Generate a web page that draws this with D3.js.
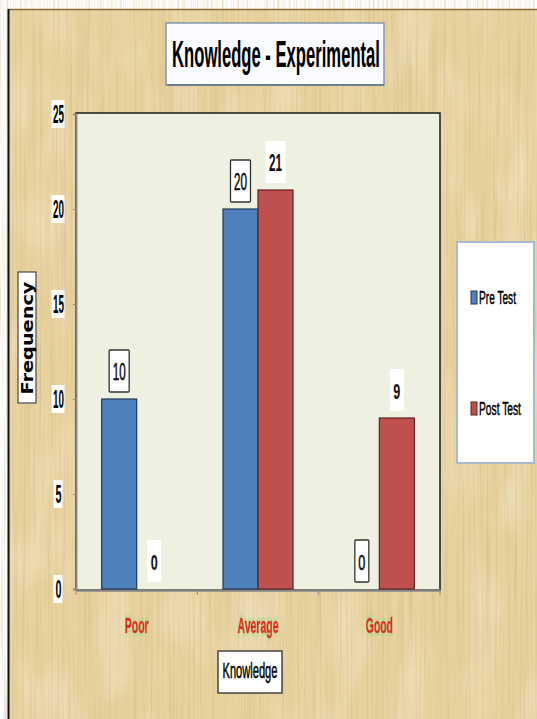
<!DOCTYPE html>
<html>
<head>
<meta charset="utf-8">
<script src="https://cdn.jsdelivr.net/npm/d3@7"></script>
<style>
  html, body { margin: 0; padding: 0; background: #ffffff; }
  svg { display: block; }
</style>
</head>
<body>
<div id="chart"></div>
<script>
// ---- data ----
const categories = ["Poor", "Average", "Good"];
const seriesNames = ["Pre Test", "Post Test"];
const preTest = [10, 20, 0];
const postTest = [0, 21, 9];
const yTicks = [0, 5, 10, 15, 20, 25];
const chartTitle = "Knowledge - Experimental";
const xTitle = "Knowledge";
const yTitle = "Frequency";

const W = 537, H = 719;
const colors = { "Pre Test": "#4f81bd", "Post Test": "#c0504d" };
const strokes = { "Pre Test": "#23395a", "Post Test": "#5c2221" };

const svg = d3.select("#chart").append("svg").attr("width", W).attr("height", H);
const defs = svg.append("defs");

// papyrus texture
const pap = defs.append("filter").attr("id", "pap").attr("filterUnits", "userSpaceOnUse")
  .attr("x", 0).attr("y", 0).attr("width", W).attr("height", H);
pap.append("feTurbulence").attr("type", "fractalNoise").attr("baseFrequency", "0.45 0.006")
  .attr("numOctaves", 3).attr("seed", 4).attr("result", "n1");
pap.append("feColorMatrix").attr("in", "n1").attr("type", "matrix")
  .attr("values", "0 0 0 0 0.62  0 0 0 0 0.48  0 0 0 0 0.22  1.2 0 0 0 -0.5").attr("result", "dark");
pap.append("feTurbulence").attr("type", "fractalNoise").attr("baseFrequency", "0.03 0.012")
  .attr("numOctaves", 2).attr("seed", 9).attr("result", "n2");
pap.append("feColorMatrix").attr("in", "n2").attr("type", "matrix")
  .attr("values", "0 0 0 0 0.97  0 0 0 0 0.91  0 0 0 0 0.75  0.9 0 0 0 -0.4").attr("result", "light");
pap.append("feMerge").call(m => { m.append("feMergeNode").attr("in", "light"); m.append("feMergeNode").attr("in", "dark"); });

// faint green glow for category labels
const glow = defs.append("filter").attr("id", "glow").attr("x", "-30%").attr("y", "-60%").attr("width", "160%").attr("height", "220%");
glow.append("feMorphology").attr("in", "SourceAlpha").attr("operator", "dilate").attr("radius", "0.5 3").attr("result", "d");
glow.append("feGaussianBlur").attr("in", "d").attr("stdDeviation", 1.2).attr("result", "b");
glow.append("feFlood").attr("flood-color", "#8fe08a").attr("flood-opacity", 0.5);
glow.append("feComposite").attr("in2", "b").attr("operator", "in").attr("result", "g");
glow.append("feMerge").call(m => { m.append("feMergeNode").attr("in", "g"); m.append("feMergeNode").attr("in", "SourceGraphic"); });

// background
svg.append("rect").attr("x", 8).attr("y", 9).attr("width", W - 8).attr("height", H - 9).attr("fill", "#e8d29f");
svg.append("rect").attr("x", 8).attr("y", 9).attr("width", W - 8).attr("height", H - 9).attr("fill", "#000").attr("filter", "url(#pap)");
svg.append("line").attr("x1", 8).attr("x2", W).attr("y1", 9.5).attr("y2", 9.5).attr("stroke", "#8a6b3a").attr("stroke-width", 1.5);
svg.append("line").attr("x1", 8.5).attr("x2", 8.5).attr("y1", 9).attr("y2", H).attr("stroke", "#111").attr("stroke-width", 2);

// text helper: natural text squeezed horizontally to the measured width
function txt(g, x, y, s, o) {
  const t = g.append("text").attr("x", 0).attr("y", 0).text(s)
    .attr("font-family", o.family || "'Liberation Sans', Arial, sans-serif")
    .attr("font-size", o.size).attr("font-weight", o.weight || "bold")
    .attr("fill", o.fill || "#000").attr("text-anchor", o.anchor || "middle");
  if (o.filter) t.attr("filter", o.filter);
  if (o.sw) t.attr("stroke", o.fill || "#000").attr("stroke-width", o.sw);
  const w = t.node().getComputedTextLength();
  const sx = o.len && w > 0 ? o.len / w : 1;
  t.attr("transform", `translate(${x},${y}) ${o.rot ? `rotate(${o.rot})` : ""} scale(${sx},1)`);
  return t;
}

// scales
const plot = { left: 76, right: 440, top: 113, bottom: 590 };
const x0 = d3.scaleBand().domain(categories).range([plot.left, plot.right]).paddingInner(0.423).paddingOuter(0.2115);
const x1 = d3.scaleBand().domain(seriesNames).range([0, x0.bandwidth()]);
const y = d3.scaleLinear().domain([0, 25]).range([589, 114]);

// plot area
svg.append("rect").attr("x", plot.left).attr("y", plot.top).attr("width", plot.right - plot.left)
  .attr("height", plot.bottom - plot.top).attr("fill", "#eef0e1").attr("stroke", "#1a1a1a").attr("stroke-width", 1.5);

// y axis
const yAxis = d3.axisLeft(y).tickValues(yTicks).tickSize(3).tickFormat("");
const yg = svg.append("g").attr("transform", `translate(${plot.left},0)`).call(yAxis);
yg.select(".domain").attr("stroke", "#8c8c8c").attr("stroke-width", 2);
yg.selectAll(".tick line").attr("stroke", "#8c8c8c");

// x axis
const xAxis = d3.axisBottom(x0).tickSize(0).tickFormat("");
const xg = svg.append("g").attr("transform", `translate(0,${plot.bottom})`).call(xAxis);
xg.select(".domain").attr("stroke", "#858585").attr("stroke-width", 2.5);
const bounds = [plot.left, ...categories.slice(1).map(c => x0(c) - x0.step() * x0.paddingInner() / 2), plot.right];
xg.selectAll(".bnd").data(bounds).join("line").attr("class", "bnd")
  .attr("x1", d => d).attr("x2", d => d).attr("y1", 0).attr("y2", 5).attr("stroke", "#8c8c8c");

// y tick labels with white boxes
yTicks.forEach(v => {
  const s = String(v);
  const bw = s.length > 1 ? 13 : 9;
  svg.append("rect").attr("x", 58 - bw / 2).attr("y", y(v) - 14).attr("width", bw).attr("height", 28).attr("fill", "#fff");
  txt(svg, 58.5, y(v) + 9, s, { size: 25, len: s.length > 1 ? 11 : 6 });
});

// bars
const rows = categories.map((c, i) => ({ cat: c, vals: [preTest[i], postTest[i]] }));
const groups = svg.append("g").selectAll("g").data(rows).join("g").attr("transform", d => `translate(${x0(d.cat)},0)`);
groups.selectAll("rect").data(d => seriesNames.map((s, j) => ({ s, v: d.vals[j] }))).join("rect")
  .attr("x", d => x1(d.s)).attr("width", x1.bandwidth())
  .attr("y", d => y(d.v)).attr("height", d => y(0) - y(d.v))
  .attr("fill", d => colors[d.s]).attr("stroke", d => strokes[d.s]).attr("stroke-width", d => d.v > 0 ? 1.2 : 0);

// data labels
rows.forEach(r => {
  seriesNames.forEach((s, j) => {
    const v = r.vals[j];
    const str = String(v);
    const cx = x0(r.cat) + x1(s) + x1.bandwidth() / 2;
    const cy = y(v) - 28;
    const tw = str.length > 1 ? 13 : 7;
    const bw = tw + 7;
    const box = svg.append("rect").attr("x", cx - bw / 2).attr("y", cy - 21).attr("width", bw).attr("height", 42).attr("fill", "#fff");
    if (s === "Pre Test") box.attr("stroke", "#333").attr("stroke-width", 1.3).attr("rx", 1);
    const pre = s === "Pre Test";
    txt(svg, cx, cy + 8.5, str, { size: 23, len: tw, weight: pre ? "normal" : "bold", sw: pre ? 0.6 : 0, fill: "#111" });
  });
});

// category labels
const catW = { "Poor": 24, "Average": 41, "Good": 27 };
categories.forEach(c => {
  txt(svg, x0(c) + x0.bandwidth() / 2, 633, c, { size: 22, len: catW[c], fill: "#dc2a22", filter: "url(#glow)", sw: 0.7 });
});

// x title
svg.append("rect").attr("x", 218).attr("y", 651).attr("width", 64).attr("height", 42).attr("fill", "#fff").attr("stroke", "#444").attr("stroke-width", 1.5);
txt(svg, 250, 678, xTitle, { size: 22, weight: "normal", len: 55, sw: 0.5 });

// y title
svg.append("rect").attr("x", 18).attr("y", 272).attr("width", 18).attr("height", 131).attr("fill", "#fff").attr("stroke", "#555").attr("stroke-width", 1.3);
txt(svg, 32.5, 338, yTitle, { size: 15, len: 113, family: "'DejaVu Sans', sans-serif", rot: -90 });

// title
svg.append("rect").attr("x", 166).attr("y", 23).attr("width", 218).attr("height", 62).attr("fill", "#fbfcff").attr("stroke", "#8596a8").attr("stroke-width", 1.5);
svg.append("line").attr("x1", 167).attr("x2", 384).attr("y1", 85).attr("y2", 85).attr("stroke", "#6f7f90").attr("stroke-width", 2);
txt(svg, 276, 67, chartTitle, { size: 37, len: 208 });

// legend
svg.append("rect").attr("x", 457).attr("y", 242).attr("width", 77).attr("height", 221).attr("fill", "#ffffff").attr("stroke", "#a9bacc").attr("stroke-width", 2);
const legY = { "Pre Test": 304, "Post Test": 415 };
const legW = { "Pre Test": 37, "Post Test": 42 };
seriesNames.forEach(s => {
  svg.append("rect").attr("x", 471).attr("y", legY[s] - 13).attr("width", 6).attr("height", 13)
    .attr("fill", colors[s]).attr("stroke", strokes[s]).attr("stroke-width", 1);
  txt(svg, 479, legY[s], s, { size: 19, weight: "normal", len: legW[s], anchor: "start", sw: 0.5 });
});
</script>
</body>
</html>
